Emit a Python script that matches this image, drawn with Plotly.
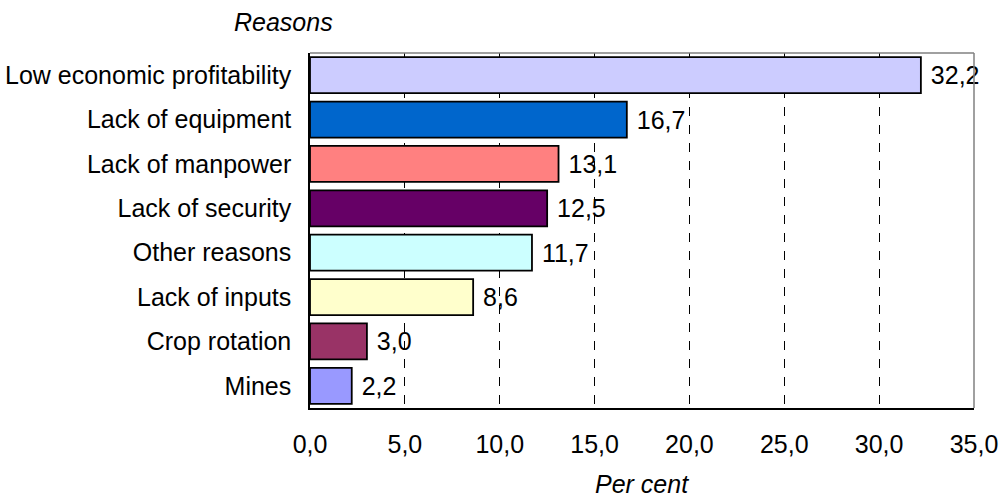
import plotly.graph_objects as go

categories = ["Low economic profitability", "Lack of equipment", "Lack of manpower",
              "Lack of security", "Other reasons", "Lack of inputs", "Crop rotation", "Mines"]
values = [32.2, 16.7, 13.1, 12.5, 11.7, 8.6, 3.0, 2.2]
colors = ["#CCCCFF", "#0066CC", "#FF8080", "#660066", "#CCFFFF", "#FFFFCC", "#993366", "#9999FF"]
x_ticks = [0, 5, 10, 15, 20, 25, 30, 35]
x_title = "Per cent"
y_title = "Reasons"

FONT = "Liberation Sans, Arial, sans-serif"
FS = 25

fig = go.Figure(go.Bar(
    x=values, y=categories, orientation="h",
    marker=dict(color=colors, line=dict(color="black", width=1.8)),
    text=["\u00a0" + f"{v:.1f}".replace(".", ",") for v in values],
    textposition="outside", cliponaxis=False,
    textfont=dict(family=FONT, size=FS, color="black"),
    width=0.81,
))

fig.update_layout(
    width=1000, height=497,
    margin=dict(l=310, r=26, t=53, b=89, autoexpand=False),
    plot_bgcolor="white", paper_bgcolor="white",
    showlegend=False,
    font=dict(family=FONT, size=FS, color="black"),
    separators=",.",
    xaxis=dict(range=[0, 35], tickvals=x_ticks, tickformat=".1f",
               showgrid=True, gridcolor="black", griddash="dash", gridwidth=1,
               showline=True, linecolor="black", linewidth=1.5,
               ticks="", ticklabelstandoff=13, zeroline=False, automargin=False,
               tickfont=dict(size=FS)),
    yaxis=dict(categoryorder="array", categoryarray=categories[::-1],
               showline=True, linecolor="black", linewidth=1.5,
               ticks="", ticklabelstandoff=12, showgrid=False, automargin=False,
               tickfont=dict(size=FS)),
    shapes=[
        dict(type="line", xref="paper", yref="paper", x0=0, x1=1, y0=1, y1=1,
             line=dict(color="#808080", width=1.5)),
        dict(type="line", xref="paper", yref="paper", x0=1, x1=1, y0=0, y1=1,
             line=dict(color="#808080", width=1.5)),
    ],
    annotations=[
        dict(text=f"<i>{y_title}</i>", xref="paper", yref="paper", x=-0.04, y=1.0,
             yshift=31, xanchor="center", yanchor="middle", showarrow=False,
             font=dict(size=FS)),
        dict(text=f"<i>{x_title}</i>", xref="paper", yref="paper", x=0.5, y=0,
             yshift=-76, xanchor="center", yanchor="middle", showarrow=False,
             font=dict(size=FS)),
    ],
)

fig.write_html("out.html")
